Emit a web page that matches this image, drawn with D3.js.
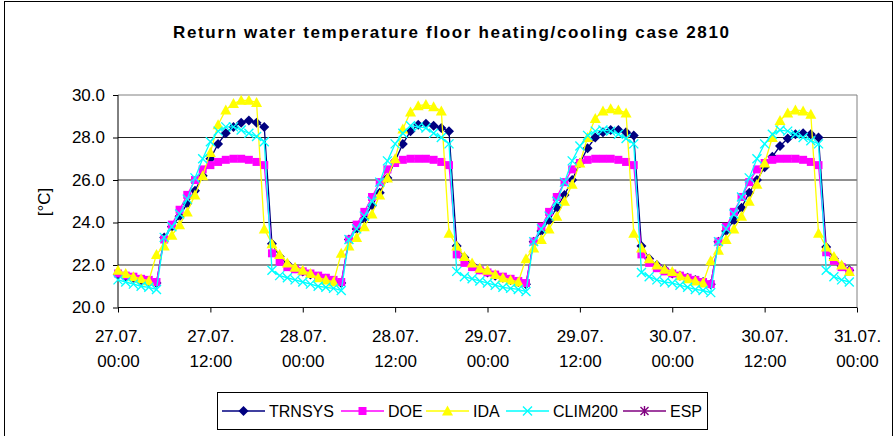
<!DOCTYPE html>
<html>
<head>
<meta charset="utf-8">
<script src="https://cdn.jsdelivr.net/npm/d3@7"></script>
<style>
  body { margin: 0; background: #fff; }
  text { font-family: "Liberation Sans", Arial, sans-serif; fill: #000; }
  .axis path, .axis line { stroke: #000; }
</style>
</head>
<body>
<svg id="chart" width="896" height="436"></svg>
<script>
// hourly values, 27.07. 00:00 .. 30.07. 23:00, one row per day
const trnsys = [
  21.55, 21.45, 21.4, 21.3, 21.25, 21.15, 23.3, 23.8, 24.3, 24.9, 25.5, 26.2, 27.0, 27.7, 28.2, 28.5, 28.7, 28.8, 28.7, 28.5, 23.0, 22.4, 22.05, 21.85,
  21.7, 21.55, 21.45, 21.35, 21.25, 21.15, 23.2, 23.7, 24.2, 24.8, 25.4, 26.1, 26.9, 27.7, 28.3, 28.6, 28.65, 28.55, 28.45, 28.3, 22.9, 22.35, 22.0, 21.8,
  21.65, 21.5, 21.4, 21.3, 21.2, 21.1, 23.1, 23.6, 24.1, 24.7, 25.3, 26.0, 26.8, 27.5, 28.0, 28.25, 28.35, 28.35, 28.25, 28.1, 22.9, 22.3, 22.0, 21.8,
  21.6, 21.5, 21.4, 21.3, 21.2, 21.1, 23.1, 23.6, 24.1, 24.7, 25.4, 26.0, 26.6, 27.1, 27.6, 27.95, 28.15, 28.2, 28.15, 28.0, 22.85, 22.3, 21.95, 21.75
];
const doe = [
  21.6, 21.5, 21.45, 21.35, 21.3, 21.2, 23.2, 23.9, 24.6, 25.3, 26.0, 26.5, 26.7, 26.85, 26.95, 27.0, 27.0, 26.95, 26.85, 26.7, 22.55, 22.15, 21.9, 21.8,
  21.7, 21.6, 21.5, 21.4, 21.3, 21.2, 23.2, 23.9, 24.5, 25.2, 25.9, 26.5, 26.8, 26.95, 27.0, 27.0, 27.0, 26.95, 26.85, 26.7, 22.5, 22.1, 21.9, 21.75,
  21.65, 21.55, 21.45, 21.35, 21.25, 21.15, 23.1, 23.8, 24.5, 25.2, 25.9, 26.5, 26.8, 26.95, 27.0, 27.0, 27.0, 26.95, 26.85, 26.7, 22.5, 22.1, 21.85, 21.7,
  21.6, 21.5, 21.4, 21.3, 21.2, 21.1, 23.1, 23.8, 24.5, 25.2, 25.9, 26.5, 26.8, 26.95, 27.0, 27.0, 27.0, 26.95, 26.85, 26.7, 22.6, 22.2, 21.9, 21.7
];
const ida = [
  21.75, 21.6, 21.45, 21.35, 21.25, 22.5, 22.9, 23.4, 23.9, 24.5, 25.3, 26.2, 27.3, 28.6, 29.3, 29.6, 29.75, 29.75, 29.65, 23.7, 23.0, 22.5, 22.1, 21.9,
  21.75, 21.6, 21.4, 21.3, 21.2, 22.55, 22.9, 23.3, 23.8, 24.4, 25.3, 26.1, 27.0, 28.4, 29.2, 29.5, 29.55, 29.45, 29.25, 23.5, 22.9, 22.4, 22.1, 21.85,
  21.75, 21.55, 21.4, 21.3, 21.2, 22.3, 22.8, 23.2, 23.7, 24.3, 25.0, 25.8, 26.8, 28.0, 28.9, 29.25, 29.35, 29.3, 29.15, 23.5, 22.8, 22.3, 22.0, 21.8,
  21.7, 21.5, 21.35, 21.25, 21.15, 22.2, 22.7, 23.2, 23.7, 24.3, 25.0, 25.8, 26.8, 28.0, 28.8, 29.15, 29.3, 29.25, 29.1, 23.5, 22.85, 22.4, 22.0, 21.7
];
const clim200 = [
  21.3, 21.2, 21.1, 21.0, 20.95, 20.85, 23.3, 23.8, 24.4, 25.1, 26.1, 27.0, 27.8, 28.3, 28.5, 28.5, 28.35, 28.2, 28.05, 27.8, 21.75, 21.5, 21.4, 21.3,
  21.2, 21.1, 21.0, 20.95, 20.9, 20.8, 23.2, 23.7, 24.3, 25.0, 25.9, 26.9, 27.7, 28.2, 28.55, 28.5, 28.45, 28.2, 28.0, 27.7, 21.7, 21.45, 21.35, 21.25,
  21.15, 21.05, 20.95, 20.9, 20.85, 20.75, 23.1, 23.7, 24.3, 25.0, 25.9, 26.9, 27.6, 28.1, 28.3, 28.35, 28.3, 28.15, 27.95, 27.7, 21.65, 21.45, 21.3, 21.2,
  21.15, 21.05, 20.95, 20.85, 20.8, 20.7, 23.1, 23.7, 24.4, 25.2, 26.1, 27.0, 27.7, 28.15, 28.35, 28.3, 28.15, 28.0, 27.85, 27.7, 21.75, 21.45, 21.3, 21.2
];
const esp = []; // no values visible in the chart

const seriesNames = ["TRNSYS", "DOE", "IDA", "CLIM200", "ESP"];
const seriesColors = ["#000080", "#ff00ff", "#ffff00", "#00ffff", "#800080"];
const seriesMarkers = ["diamond", "square", "triangle", "cross", "asterisk"];

const xTickHours = [0, 12, 24, 36, 48, 60, 72, 84, 96];
const xTickDates = ["27.07.", "27.07.", "28.07.", "28.07.", "29.07.", "29.07.", "30.07.", "30.07.", "31.07."];
const xTickTimes = ["00:00", "12:00", "00:00", "12:00", "00:00", "12:00", "00:00", "12:00", "00:00"];
const yTicks = [20, 22, 24, 26, 28, 30];

const plot = { left: 118, right: 857, top: 95, bottom: 307.5 };

let svg = d3.select("#chart");

// chart frame
svg.append("rect")
  .attr("x", 4.5).attr("y", 1.5)
  .attr("width", 888).attr("height", 445)
  .attr("fill", "none").attr("stroke", "#000");

let xScale = d3.scaleLinear().domain([0, 96]).range([plot.left, plot.right]);
let yScale = d3.scaleLinear().domain([20, 30]).range([plot.bottom, plot.top]);

// horizontal grid lines
svg.append("g")
  .selectAll("line")
  .data(yTicks.slice(1))
  .enter()
  .append("line")
  .attr("x1", plot.left).attr("x2", plot.right)
  .attr("y1", (d) => yScale(d)).attr("y2", (d) => yScale(d))
  .attr("stroke", (d) => d == 30 ? "#808080" : "#222")
  .attr("stroke-width", 1);

// right edge of plot area
svg.append("line")
  .attr("x1", plot.right).attr("x2", plot.right)
  .attr("y1", plot.top).attr("y2", plot.bottom)
  .attr("stroke", "#808080");

// y axis
let yAxis = d3.axisLeft(yScale)
  .tickValues(yTicks)
  .tickSize(5)
  .tickPadding(8)
  .tickFormat(d3.format(".1f"));
svg.append("g")
  .attr("class", "y axis")
  .attr("transform", "translate(" + plot.left + ",0)")
  .call(yAxis)
  .call((g) => g.select(".domain").attr("d", "M0," + plot.top + "V" + plot.bottom))
  .selectAll("text")
  .style("font-size", "17px")
  .style("font-family", "Liberation Sans, Arial, sans-serif");

// x axis with two-line labels
let xAxis = d3.axisBottom(xScale)
  .tickValues(xTickHours)
  .tickSize(5)
  .tickFormat("");
let xg = svg.append("g")
  .attr("class", "x axis")
  .attr("transform", "translate(0," + plot.bottom + ")")
  .call(xAxis);
xg.select(".domain").attr("d", "M" + plot.left + ",0H" + plot.right);
xg.selectAll(".tick")
  .append("text")
  .attr("text-anchor", "middle")
  .style("font-size", "17px")
  .each(function (d, i) {
    let t = d3.select(this);
    t.append("tspan").attr("x", 0).attr("y", 34).text(xTickDates[i]);
    t.append("tspan").attr("x", 0).attr("y", 59).text(xTickTimes[i]);
  });

// marker shapes (Excel style)
function markerPath(type) {
  if (type == "diamond") return "M0,-5L5,0L0,5L-5,0Z";
  if (type == "square") return "M-4,-4H4V4H-4Z";
  if (type == "triangle") return "M0,-5.5L5.5,4.5H-5.5Z";
  if (type == "cross") return "M-4.5,-4.5L4.5,4.5M-4.5,4.5L4.5,-4.5";
  return "M-4,-4L4,4M-4,4L4,-4M0,-5V5";
}

const allSeries = [trnsys, doe, ida, clim200, esp];
let line = d3.line()
  .x((d, i) => xScale(i))
  .y((d) => yScale(d));

allSeries.forEach((values, s) => {
  let g = svg.append("g").attr("class", "series " + seriesNames[s]);
  g.append("path")
    .attr("d", line(values))
    .attr("fill", "none")
    .attr("stroke", seriesColors[s])
    .attr("stroke-width", 1.3);
  let open = seriesMarkers[s] == "cross" || seriesMarkers[s] == "asterisk";
  g.selectAll(".mark")
    .data(values)
    .enter()
    .append("path")
    .attr("class", "mark")
    .attr("transform", (d, i) => "translate(" + xScale(i) + "," + yScale(d) + ")")
    .attr("d", markerPath(seriesMarkers[s]))
    .attr("fill", open ? "none" : seriesColors[s])
    .attr("stroke", open ? seriesColors[s] : "none")
    .attr("stroke-width", 1.4);
});

// titles
svg.append("text")
  .attr("x", 451).attr("y", 38)
  .attr("text-anchor", "middle")
  .attr("textLength", 556)
  .attr("lengthAdjust", "spacing")
  .style("font-size", "17px")
  .style("font-weight", "bold")
  .text("Return water temperature floor heating/cooling case 2810");

svg.append("text")
  .attr("transform", "translate(50,202) rotate(-90)")
  .attr("text-anchor", "middle")
  .style("font-size", "17px")
  .text("[°C]");

// legend
let legend = svg.append("g").attr("class", "legend");
legend.append("rect")
  .attr("x", 217.5).attr("y", 392.5)
  .attr("width", 490).attr("height", 37)
  .attr("fill", "#fff").attr("stroke", "#000");
const legendX = [222, 341, 426, 506, 623];
seriesNames.forEach((name, s) => {
  let x0 = legendX[s];
  let open = seriesMarkers[s] == "cross" || seriesMarkers[s] == "asterisk";
  legend.append("line")
    .attr("x1", x0).attr("x2", x0 + 43)
    .attr("y1", 411).attr("y2", 411)
    .attr("stroke", seriesColors[s]).attr("stroke-width", 1.3);
  legend.append("path")
    .attr("transform", "translate(" + (x0 + 21.5) + ",411)")
    .attr("d", markerPath(seriesMarkers[s]))
    .attr("fill", open ? "none" : seriesColors[s])
    .attr("stroke", open ? seriesColors[s] : "none")
    .attr("stroke-width", 1.4);
  legend.append("text")
    .attr("x", x0 + 47).attr("y", 417)
    .style("font-size", "16px")
    .text(name);
});
</script>
</body>
</html>
